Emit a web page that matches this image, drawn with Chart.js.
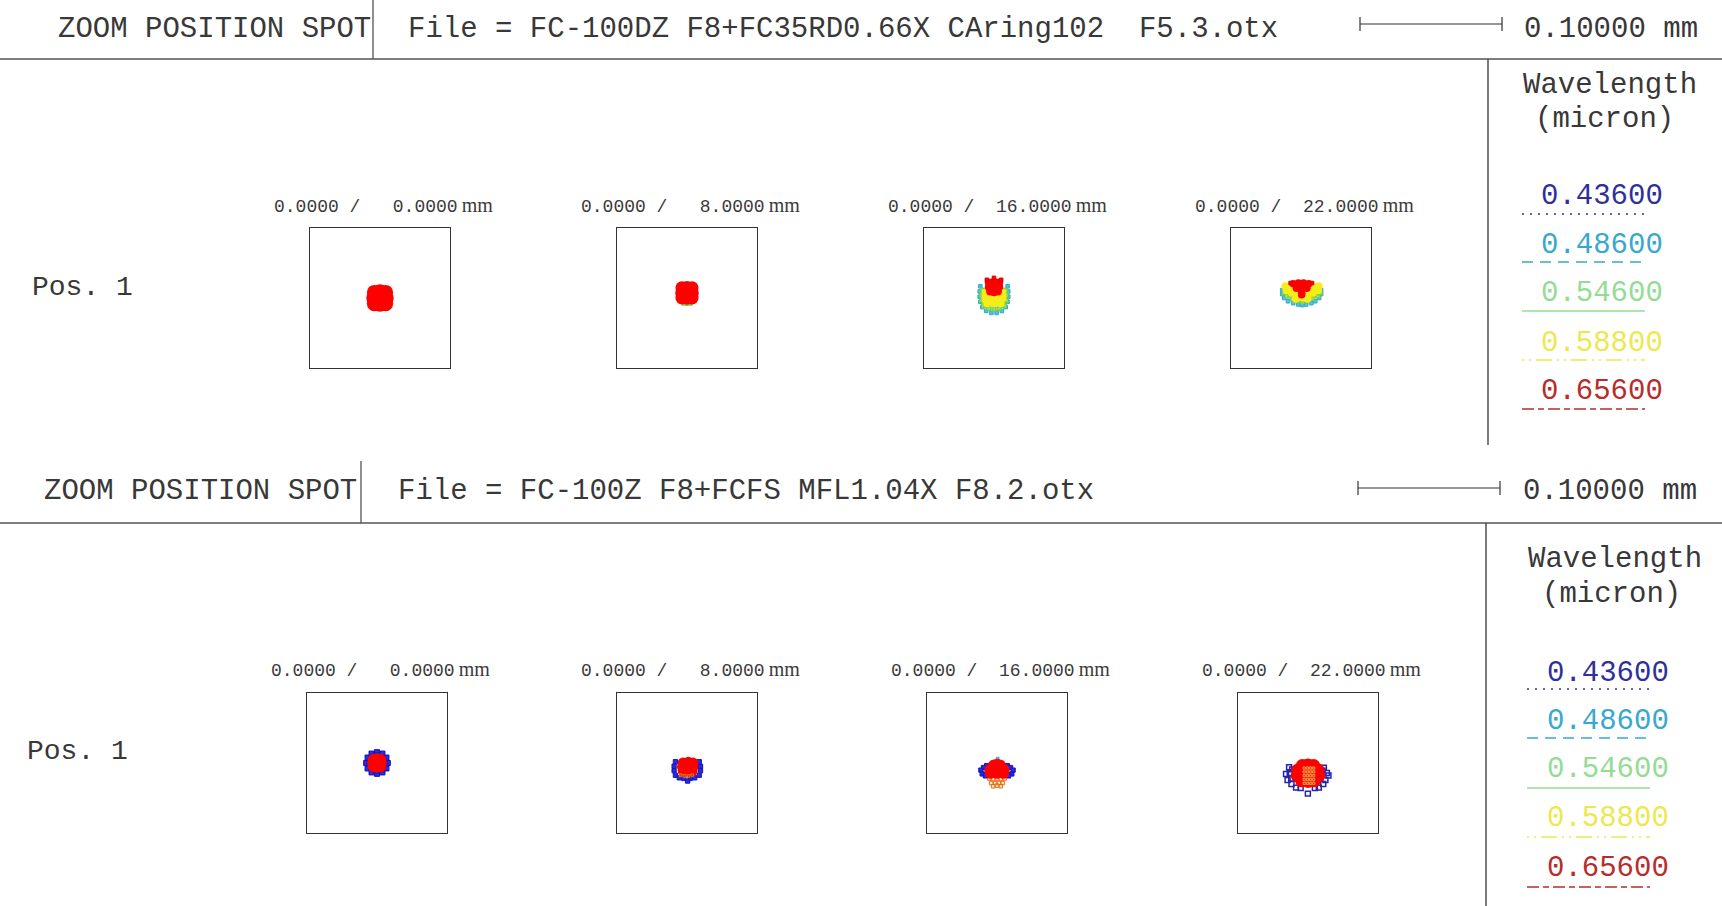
<!DOCTYPE html>
<html>
<head>
<meta charset="utf-8">
<title>Zoom position spot diagram</title>
<script src="https://cdn.jsdelivr.net/npm/chart.js@4.4.1/dist/chart.umd.min.js"></script>
<style>
  html, body { margin: 0; padding: 0; background: #fff; }
  #page { position: relative; width: 1722px; height: 906px; overflow: hidden;
          font-family: 'Liberation Mono', 'DejaVu Sans Mono', monospace; color: #383838; }
  .t { position: absolute; white-space: pre; line-height: 1; }
  .box { position: absolute; width: 140px; height: 140px; border: 1px solid #333; }
  .box canvas { display: block; }
  #lines { position: absolute; left: 0; top: 0; }
</style>
</head>
<body>
<div id="page">
  <svg id="lines" width="1722" height="906" xmlns="http://www.w3.org/2000/svg"></svg>
</div>
<script>
// ---- data (spot coordinates in microns, box spans -50..50 = 0.1 mm) ----
const wavelengths = ['0.43600', '0.48600', '0.54600', '0.58800', '0.65600'];
const fieldLabels = ['0.0000 /   0.0000', '0.0000 /   8.0000', '0.0000 /  16.0000', '0.0000 /  22.0000'];
const fileNames = ['File = FC-100DZ F8+FC35RD0.66X CAring102  F5.3.otx', 'File = FC-100Z F8+FCFS MFL1.04X F8.2.otx'];
const headTitle = 'ZOOM POSITION SPOT';
const posLabel = 'Pos. 1';
const scaleLabel = '0.10000 mm';
const axisRange = [-50, 50];

// upper design
const a1Red = [[-4.5,4.5],[0,5],[4.5,4.5],[-5,0],[0,0],[5,0],[-4.5,-4.5],[0,-5],[4.5,-4.5]];

const a2Green = [[-3,-4.6],[0,-4.8],[3,-4.6]];
const a2Red = [[-4,8],[0,8.3],[4,8],[-4.2,4],[0,4],[4.2,4],[-4,0],[0,-0.2],[4,0]];

const a3Cyan = [[-10.5,9],[-11,5],[-11,1],[-10.5,-3],[-9,-7],[-6,-10],[-2,-11.5],[2,-11.5],[6,-10],[9,-7],[10.5,-3],[11,1],[11,5],[10.5,9]];
const a3Green = [[-9,6],[-9.5,2],[-9.5,-2],[-8,-6],[-4,-8],[0,-8.5],[4,-8],[8,-6],[9.5,-2],[9.5,2],[9,6]];
const a3Yellow = [[-6.5,4],[6.5,4],[-6.5,0],[-2,0],[2,0],[6.5,0],[-5,-4],[0,-4],[5,-4],[-6,-2],[0,2]];
const a3Red = [[-4,12],[0,12.5],[4,12],[-4,8.5],[0,8.5],[4,8.5],[-3,5],[0,4.5],[3,5]];
const a3RedEdge = [[0,15.5],[-5.5,14],[5.5,14]];

const a4Cyan = [[-14.5,6],[-14.5,3],[-13,0],[-10,-2.5],[-6,-4],[-2,-5],[1,-5.5],[4,-5],[8,-4],[11,-2.5],[14,0],[15.5,3],[15.5,6]];
const a4Green = [[-13,4],[-11,1.5],[-7,-0.5],[-3,-2],[1,-3],[5,-2],[9,-0.5],[13,1.5],[15,4]];
const a4Yellow = [[-11,6],[-7,4],[-3,2],[1,0.5],[5,2],[9,4],[13,6],[-12,9],[13.5,9],[-9,8],[10,8],[-4,-0.5],[5,-0.5]];
const a4Red = [[-6,11],[-2,11.5],[2,11.5],[6,11],[-3.5,7.5],[1,7.5],[4.5,7.5],[0.5,4],[0.5,2.5]];
const a4RedEdge = [[-8,11.5],[8.5,11.5]];

// lower design
const b1Blue = [[8.5,0],[7.4,4.3],[4.3,7.4],[0,8.5],[-4.3,7.4],[-7.4,4.3],[-8.5,0],[-7.4,-4.3],[-4.3,-7.4],[0,-8.5],[4.3,-7.4],[7.4,-4.3],
                [6,0],[0,6],[-6,0],[0,-6],[4.2,4.2],[-4.2,4.2],[-4.2,-4.2],[4.2,-4.2]];
const b1Red = [[-2.5,2.5],[2.5,2.5],[-2.5,-2.5],[2.5,-2.5],[0,0],[0,3],[0,-3],[-3,0],[3,0]];

const b2Blue = [[-9,1],[-10,-2.5],[-10,-6],[-9,-9.5],[-6,-11.5],[-2.5,-12],[2.5,-12],[6,-11.5],[9.5,-9.5],[10.5,-6],[10.5,-2.5],[9.5,1],[0.5,-14]];
const b2Red = [[-3,0],[1,0.5],[4.5,0],[-3.5,-3],[0.5,-3],[4.5,-3],[-3,-6],[0.5,-6.2],[4,-6]];
const b2Orange = [[-5,-9.5],[-2,-10],[1,-10],[4,-9.5]];

const b3Cyan = [[0.5,3.3]];
const b3Blue = [[-8,-2],[-10.5,-3.5],[-12.5,-5.5],[-11.5,-8.5],[-9,-10],[-7.5,-6],[8,-2],[10.5,-3.5],[12.5,-5.5],[11.5,-8.5],[9,-10],[7.5,-6]];
const b3Orange = [[-6,-12],[-3,-12.5],[0,-12],[3,-12.5],[6,-12],[-4.5,-15.5],[-1.5,-15.5],[1.5,-15.5],[4.5,-15.5],[-3,-18],[0,-17.5],[3,-18]];
const b3Red = [[-2.5,-1.5],[2.5,-1.5],[-5.5,-5],[0,-4.5],[5.5,-5],[-5,-8],[0,-8],[5,-8],[0,-1]];

const b4Blue = [[-14.9,-3.4],[-17.3,-8.6],[-14.4,-7.8],[-16.1,-13.4],[-13.2,-12.2],[-13,-16.5],[-9.4,-19.4],[-5.8,-19.8],[-12.5,-5],
                [12.5,-3.8],[14.9,-7.8],[16.1,-9.8],[13.7,-13.4],[12,-16.5],[8.5,-19.4],[5.4,-19.8],[11.5,-6],[-0.1,-24.1]];
const b4Red = [[-4.5,-2],[0,-1.5],[4.5,-2],[-8,-5.5],[-4,-6],[0,-6],[4,-6],[8,-5.5],[-8.5,-10],[-4,-10],[0,-10],[4,-10],[8.5,-10],
               [-5,-14],[0,-14.5],[5,-14]];
const b4Orange = [[-3,-4],[-0.5,-4],[2,-4],[4.5,-4],[-3,-7],[-0.5,-7],[2,-7],[4.5,-7],[-3,-10],[-0.5,-10],[2,-10],[4.5,-10],
                  [-3,-13],[-0.5,-13],[2,-13],[4.5,-13],[-3,-16],[-0.5,-16],[2,-16],[4.5,-16]];

// ---- styles ----
const legendColors = ['#30309a', '#38a8cc', '#94dc94', '#ece84e', '#b82c2c'];
const legendDash = ['2 6', '11 7', '', '2 5 2 5 16 5', '12 4 6 4'];
const mark = {
  red:     { style: 'circle', fill: '#ff0000', line: '#ff0000', bw: 0 },
  redSq:   { style: 'rect', fill: '#ff0000', line: '#e00000', bw: 1 },
  yellow:  { style: 'circle', fill: '#f4ee18', line: '#f4ee18', bw: 0 },
  green:   { style: 'rect', fill: '#96dc60', line: '#70c850', bw: 1 },
  cyan:    { style: 'rect', fill: '#50c4e4', line: '#2ea8d8', bw: 1 },
  blue:    { style: 'rect', fill: '#2a2ae0', line: '#1414b8', bw: 1 },
  blueBox: { style: 'rect', fill: 'rgba(255,255,255,0)', line: '#2424b0', bw: 1.5 },
  orange:  { style: 'rect', fill: 'rgba(255,160,40,0.25)', line: '#e07018', bw: 1 },
  grid:    { style: 'rect', fill: 'rgba(255,120,40,0.15)', line: '#f4a040', bw: 1 }
};

const page = document.getElementById('page');
const svg = document.getElementById('lines');

function text(str, x, yc, size, opts = {}) {
  const d = document.createElement('div');
  d.className = 't';
  d.textContent = str;
  d.style.left = x + 'px';
  d.style.top = (yc - 0.44 * size) + 'px';
  d.style.fontSize = size + 'px';
  if (opts.color) d.style.color = opts.color;
  page.appendChild(d);
  return d;
}

function line(x1, y1, x2, y2, color, width, dash) {
  const l = document.createElementNS('http://www.w3.org/2000/svg', 'line');
  l.setAttribute('x1', x1); l.setAttribute('y1', y1);
  l.setAttribute('x2', x2); l.setAttribute('y2', y2);
  l.setAttribute('stroke', color);
  l.setAttribute('stroke-width', width);
  if (dash) l.setAttribute('stroke-dasharray', dash);
  svg.appendChild(l);
}

function spotBox(left, top, sets) {
  const box = document.createElement('div');
  box.className = 'box';
  box.style.left = left + 'px';
  box.style.top = top + 'px';
  const cv = document.createElement('canvas');
  cv.width = 140; cv.height = 140;
  box.appendChild(cv);
  page.appendChild(box);

  new Chart(cv, {
    type: 'scatter',
    data: {
      datasets: sets.map((s, i) => ({
        data: s[0].map(p => ({ x: p[0], y: p[1] })),
        pointStyle: s[1].style,
        pointRadius: s[2],
        backgroundColor: s[1].fill,
        borderColor: s[1].line,
        borderWidth: s[1].bw,
        order: sets.length - i
      }))
    },
    options: {
      responsive: false,
      animation: false,
      events: [],
      layout: { padding: 0 },
      plugins: { legend: { display: false }, tooltip: { enabled: false } },
      scales: {
        x: { type: 'linear', min: axisRange[0], max: axisRange[1], display: false },
        y: { type: 'linear', min: axisRange[0], max: axisRange[1], display: false }
      }
    }
  });
}

function fieldLabel(str, x, yc) {
  const d = text(str, x, yc, 18, { color: '#3a3a3a' });
  const mm = document.createElement('span');
  mm.textContent = 'mm';
  mm.style.fontFamily = "'Liberation Serif', serif";
  mm.style.fontSize = '20px';
  mm.style.marginLeft = '4px';
  d.appendChild(mm);
}

// ---- panel layout ----
const panels = [
  {
    headY: 28, headX: 58, divX: 373, divTop: 0, fileX: 408, ruleY: 59,
    barX: [1360, 1502], barY: 24, scaleX: 1524, rightX: 1488, rightEnd: 445,
    posX: 32, posY: 286, labelY: 203, boxTop: 227, boxLeft: [309, 616, 923, 1230],
    legX: [1523, 1535, 1541], legY: [84, 118], valY: [195, 244, 292, 341.5, 390],
    lineX: [1522, 1645], lineY: [214, 262, 311, 360, 409],
    file: fileNames[0],
    spots: [
      [[a1Red, mark.red, 7.5]],
      [[a2Green, mark.green, 2], [a2Red, mark.red, 6.5]],
      [[a3Cyan, mark.cyan, 2.5], [a3Green, mark.green, 3], [a3Yellow, mark.yellow, 4], [a3Red, mark.red, 4], [a3RedEdge, mark.redSq, 2.5]],
      [[a4Cyan, mark.cyan, 2.5], [a4Green, mark.green, 3], [a4Yellow, mark.yellow, 4], [a4Red, mark.red, 3.8], [a4RedEdge, mark.redSq, 2.5]]
    ]
  },
  {
    headY: 490, headX: 44, divX: 361, divTop: 461, fileX: 398, ruleY: 523,
    barX: [1358, 1500], barY: 488, scaleX: 1523, rightX: 1486, rightEnd: 906,
    posX: 27, posY: 750, labelY: 667, boxTop: 692, boxLeft: [306, 616, 926, 1237],
    legX: [1528, 1542, 1547], legY: [558, 593], valY: [672, 720, 768, 817, 867],
    lineX: [1527, 1650], lineY: [689, 738, 788, 837, 887],
    file: fileNames[1],
    spots: [
      [[b1Blue, mark.blue, 3.5], [b1Red, mark.red, 6]],
      [[b2Blue, mark.blue, 3], [b2Red, mark.red, 5.5], [b2Orange, mark.orange, 2]],
      [[b3Cyan, mark.cyan, 2], [b3Blue, mark.blue, 3], [b3Orange, mark.orange, 2.5], [b3Red, mark.red, 5.5]],
      [[b4Blue, mark.blueBox, 3.5], [b4Red, mark.red, 6.5], [b4Orange, mark.grid, 1.6]]
    ]
  }
];

panels.forEach(p => {
  // header
  text(headTitle, p.headX, p.headY, 29);
  text(p.file, p.fileX, p.headY, 29);
  text(scaleLabel, p.scaleX, p.headY, 29);
  line(p.divX, p.divTop, p.divX, p.ruleY, '#444', 1.2);
  line(0, p.ruleY, 1722, p.ruleY, '#555', 1.6);
  line(p.barX[0], p.barY, p.barX[1], p.barY, '#333', 1.2);
  line(p.barX[0], p.barY - 7, p.barX[0], p.barY + 7, '#333', 1.2);
  line(p.barX[1], p.barY - 7, p.barX[1], p.barY + 7, '#333', 1.2);
  line(p.rightX, p.ruleY, p.rightX, p.rightEnd, '#444', 1.4);

  // legend
  text('Wavelength', p.legX[0], p.legY[0], 29);
  text('(micron)', p.legX[1], p.legY[1], 29);
  wavelengths.forEach((w, i) => {
    text(w, p.legX[2], p.valY[i], 29, { color: legendColors[i] });
    line(p.lineX[0], p.lineY[i], p.lineX[1], p.lineY[i], legendColors[i], 1.6, legendDash[i]);
  });

  // spots
  text(posLabel, p.posX, p.posY, 28);
  p.boxLeft.forEach((x, i) => {
    fieldLabel(fieldLabels[i], x - 35, p.labelY);
    spotBox(x, p.boxTop, p.spots[i]);
  });
});
</script>
</body>
</html>
